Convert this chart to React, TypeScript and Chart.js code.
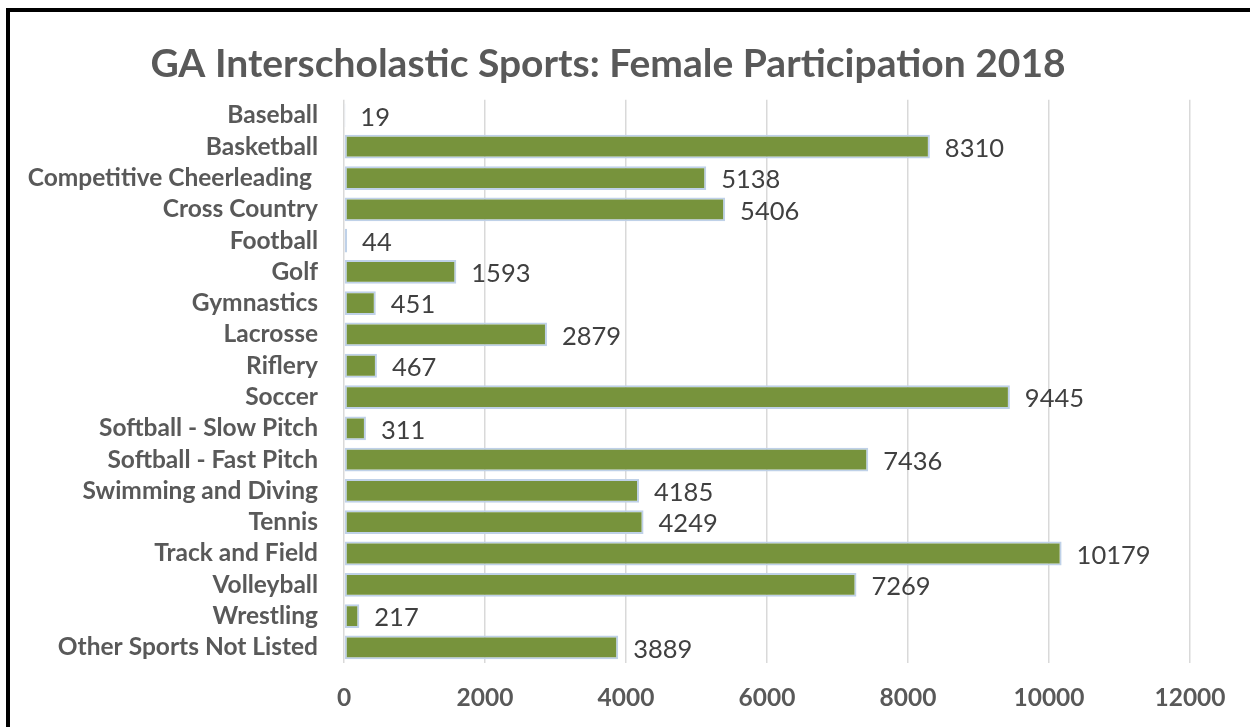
import React, { useEffect, useRef } from "react";
import { Chart, registerables } from "chart.js";

Chart.register(...registerables);

const categories: string[] = [
  "Baseball",
  "Basketball",
  "Competitive Cheerleading ",
  "Cross Country",
  "Football",
  "Golf",
  "Gymnastics",
  "Lacrosse",
  "Riflery",
  "Soccer",
  "Softball - Slow Pitch",
  "Softball - Fast Pitch",
  "Swimming and Diving",
  "Tennis",
  "Track and Field",
  "Volleyball",
  "Wrestling",
  "Other Sports Not Listed",
];

const participants: number[] = [
  19, 8310, 5138, 5406, 44, 1593, 451, 2879, 467, 9445, 311, 7436, 4185, 4249,
  10179, 7269, 217, 3889,
];

const xTicks: number[] = [0, 2000, 4000, 6000, 8000, 10000, 12000];

const titleText = "GA Interscholastic Sports: Female Participation 2018";

const FONT = "Lato, 'Open Sans', sans-serif";

const dataLabelPlugin = {
  id: "dataLabels",
  afterDatasetsDraw(chart: any) {
    const ctx = chart.ctx;
    const meta = chart.getDatasetMeta(0);
    const data = chart.data.datasets[0].data as number[];
    ctx.save();
    ctx.font = `400 25.5px ${FONT}`;
    ctx.fillStyle = "#404040";
    ctx.textAlign = "left";
    ctx.textBaseline = "middle";
    meta.data.forEach((bar: any, i: number) => {
      ctx.fillText(String(data[i]), bar.x + 15, bar.y + 2);
    });
    ctx.restore();
  },
};

export default function App() {
  const canvasRef = useRef<HTMLCanvasElement | null>(null);

  useEffect(() => {
    if (!canvasRef.current) return;
    const chart = new Chart(canvasRef.current, {
      type: "bar",
      data: {
        labels: categories,
        datasets: [
          {
            data: participants,
            backgroundColor: "#77933c",
            borderColor: "#bfd1e8",
            borderWidth: 2,
            borderSkipped: false,
            barPercentage: 0.76,
            categoryPercentage: 1,
          },
        ],
      },
      options: {
        indexAxis: "y",
        responsive: false,
        animation: false,
        layout: { padding: { left: 26, right: 60, top: 0, bottom: 0 } },
        plugins: {
          legend: { display: false },
          tooltip: { enabled: false },
          title: {
            display: true,
            text: titleText,
            color: "#595959",
            font: { family: FONT, size: 39, weight: "bold" },
            padding: { top: 41, bottom: 12 },
          },
        },
        scales: {
          x: {
            min: 0,
            max: 12000,
            afterBuildTicks: (scale: any) => {
              scale.ticks = xTicks.map((v) => ({ value: v }));
            },
            afterFit: (scale: any) => {
              scale.height = 64;
            },
            grid: { color: "#d9d9d9", lineWidth: 1.5, drawTicks: false },
            border: { display: false },
            ticks: {
              color: "#595959",
              font: { family: FONT, size: 24.5, weight: "bold" },
              padding: 20,
              callback: (value: any) => String(value),
            },
          },
          y: {
            afterFit: (scale: any) => {
              scale.width = 318;
            },
            grid: { display: false, drawTicks: false },
            border: { display: false },
            ticks: {
              color: "#595959",
              font: { family: FONT, size: 24.5, weight: "bold" },
              padding: 26,
              autoSkip: false,
            },
          },
        },
      },
      plugins: [dataLabelPlugin],
    });
    return () => chart.destroy();
  }, []);

  return (
    <div
      style={{
        position: "fixed",
        left: 0,
        top: 0,
        width: 1250,
        height: 727,
        overflow: "hidden",
        background: "#ffffff",
      }}
    >
      <canvas
        ref={canvasRef}
        width={1250}
        height={727}
        style={{ position: "absolute", left: 0, top: 0, width: 1250, height: 727 }}
      />
      <div
        style={{
          position: "absolute",
          left: 6,
          top: 8,
          width: 1300,
          height: 800,
          borderTop: "4px solid #000",
          borderLeft: "4px solid #000",
          pointerEvents: "none",
        }}
      />
    </div>
  );
}
